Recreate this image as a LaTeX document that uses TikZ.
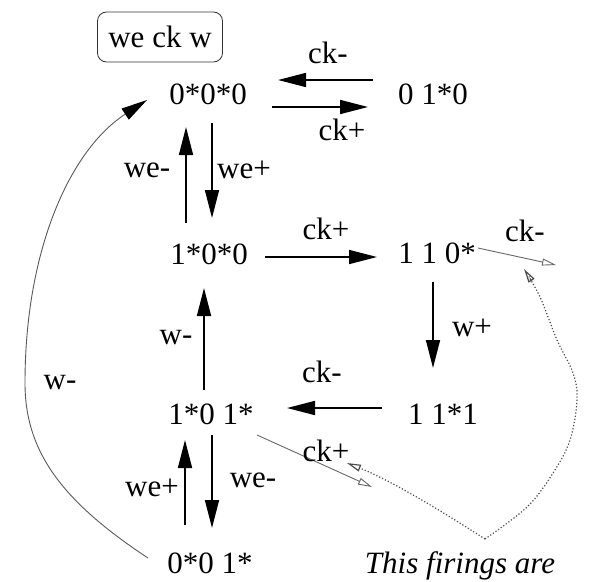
\documentclass[tikz,border=0pt]{standalone}
\usepackage{fontspec}
\setmainfont{Liberation Serif}
\usetikzlibrary{arrows.meta,calc}
\begin{document}
\begin{tikzpicture}[x=1pt,y=-1pt,
  every node/.style={font=\fontsize{31}{36}\selectfont, inner sep=0pt},
  st/.style={},
  lbl/.style={},
  arr/.style={line width=1.6pt, -{Triangle[length=28pt,width=14pt]}},
  garr/.style={line width=0.9pt, draw=gray!80!black, -{Triangle[open,length=14pt,width=7pt]}},
  dotarr/.style={line width=1.2pt, draw=gray!60!black, dotted, -{Triangle[open,length=14pt,width=7pt]}},
  curvarr/.style={line width=0.9pt, draw=gray!70!black, -{Triangle[length=26pt,width=13pt,color=black,fill=black]}},
  legendbox/.style={draw=black!80, line width=0.8pt, rounded corners=9pt, minimum width=125pt, minimum height=50pt}
]
\useasboundingbox (0,0) rectangle (593,581);

\node[legendbox] (legend) at (160,37) {we ck w};

\node[st] (s000) at (208,94) {0*0*0};
\node[st] (s010) at (433,94) {0 1*0};
\node[st] (s100) at (209,254) {1*0*0};
\node[st] (s110) at (437,253) {1 1 0*};
\node[st] (s111) at (443,414) {1 1*1};
\node[st] (s101) at (211,414) {1*0 1*};
\node[st] (s001) at (210,563) {0*0 1*};

\coordinate (g1) at (556,265);
\coordinate (g2) at (372,487);
\coordinate (c3) at (485,539);

% top pair
\draw[arr] ($(s010)+(-60,-14)$) -- ($(s000)+(70,-14)$);
\draw[arr] ($(s000)+(64,13)$) -- ($(s010)+(-65,13)$);
\node[lbl] (l1) at (328,53) {ck-};
\node[lbl] (l2) at (342,130) {ck+};

% 0*0*0 <-> 1*0*0
\draw[arr] ($(s100)+(-23,-31)$) -- ($(s000)+(-22,33)$);
\draw[arr] ($(s000)+(4,29)$) -- ($(s100)+(3,-36)$);
\node[lbl] (l3) at (147,170) {we-};
\node[lbl] (l4) at (244,170) {we+};

% 1*0*0 -> 1 1 0*
\draw[arr] ($(s100)+(56,3)$) -- ($(s110)+(-60,4)$);
\node[lbl] (l5) at (326,229) {ck+};

% grey ck- from 1 1 0*
\draw[garr] ($(s110)+(41,-5)$) -- (g1);
\node[lbl] (l6) at (525,231) {ck-};

% w+
\draw[arr] ($(s110)+(-4,29)$) -- ($(s111)+(-10,-46)$);
\node[lbl] (l7) at (472,328) {w+};

% 1 1*1 -> 1*0 1*
\draw[arr] ($(s111)+(-61,-6)$) -- ($(s101)+(76,-6)$);
\node[lbl] (l8) at (322,372) {ck-};

% w- up
\draw[arr] ($(s101)+(-7,-24)$) -- ($(s100)+(-5,34)$);
\node[lbl] (l9) at (176,338) {w-};

% grey ck+ from 1*0 1*
\draw[garr] ($(s101)+(46,21)$) -- (g2);
\node[lbl] (l10) at (326,451) {ck+};

% 1*0 1* <-> 0*0 1*
\draw[arr] ($(s001)+(-25,-38)$) -- ($(s101)+(-26,26)$);
\draw[arr] ($(s101)+(1,21)$) -- ($(s001)+(2,-35)$);
\node[lbl] (l11) at (152,488) {we+};
\node[lbl] (l12) at (253,480) {we-};

% long w- curve
\draw[curvarr] ($(s001)+(-62,-5)$) .. controls (60,500) and (25,450) .. (25,383)
   .. controls (25,250) and (70,150) .. ($(s000)+(-61,6)$);
\node[lbl] (l13) at (60,383) {w-};

% dotted annotation arrows
\draw[dotarr] (c3) .. controls (440,510) and (390,480) .. (347,463);
\draw[dotarr] plot[smooth, tension=0.6] coordinates {(485,539) (527,507) (553,473) (570,440) (577,400) (573,373) (557,340) (540,297) (524,269)};

\node[anchor=base, font=\fontsize{31}{36}\selectfont\itshape] (note) at (460,573) {This firings are};
\end{tikzpicture}
\end{document}
